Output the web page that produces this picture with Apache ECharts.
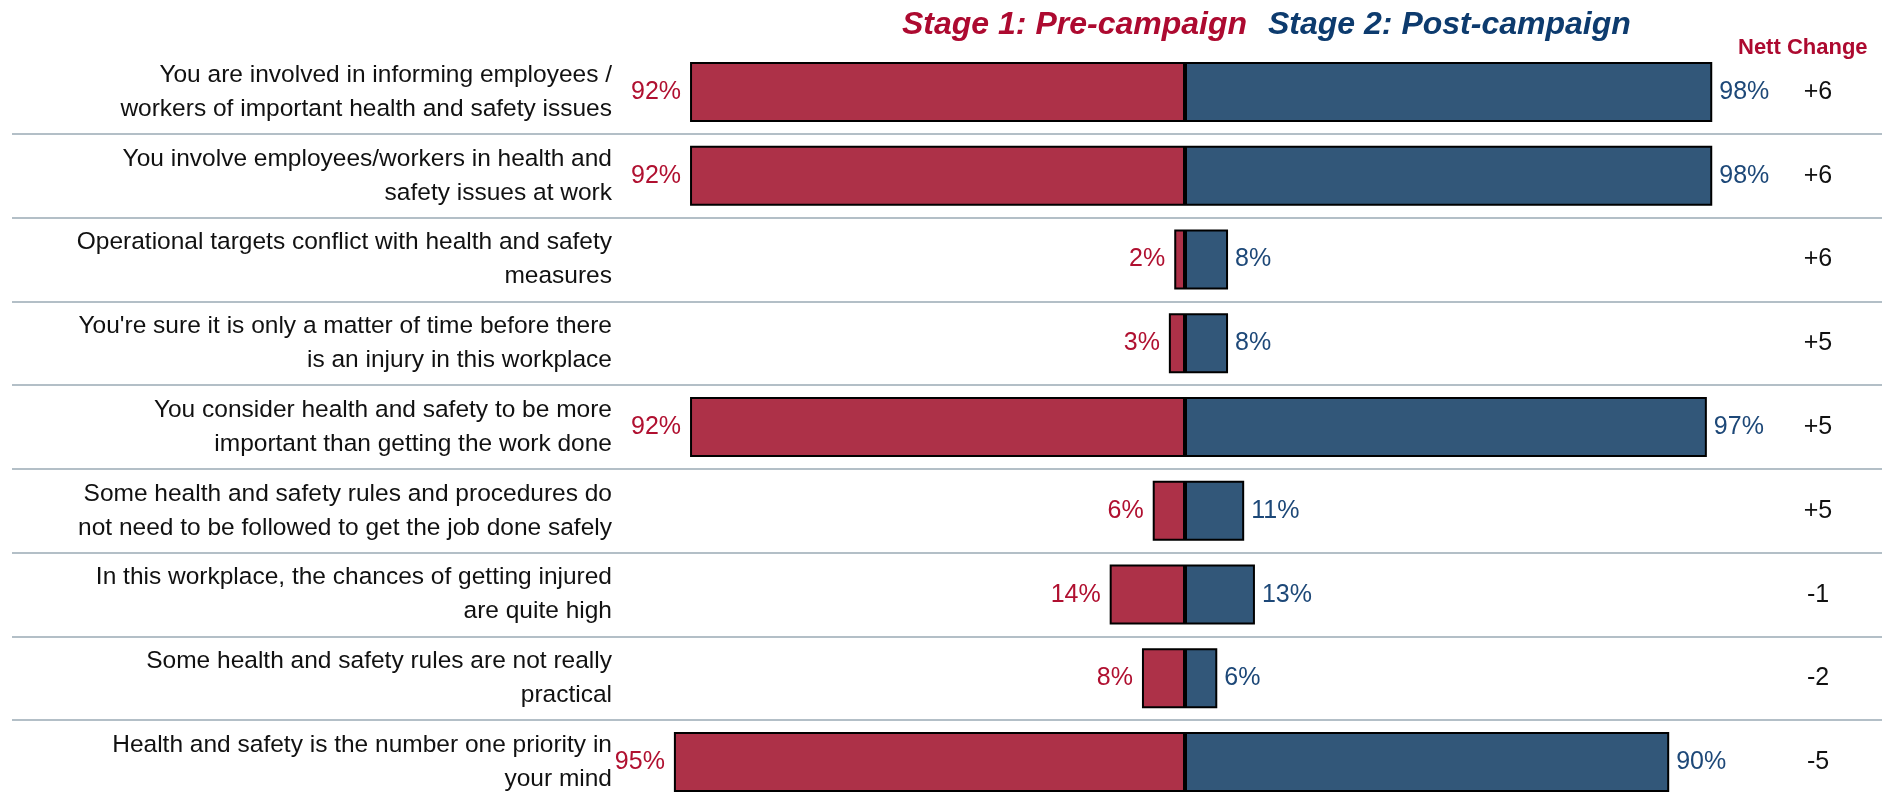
<!DOCTYPE html>
<html>
<head>
<meta charset="utf-8">
<title>Health and safety survey: pre vs post campaign</title>
<script src="https://cdn.jsdelivr.net/npm/echarts@6/dist/echarts.min.js"></script>
<style>
  html, body { margin: 0; padding: 0; background: #ffffff; }
  #chart { width: 1891px; height: 793px; }
</style>
</head>
<body>
<div id="chart"></div>
<script>
// Survey statements, top to bottom
const statements = [
  'You are involved in informing employees /\nworkers of important health and safety issues',
  'You involve employees/workers in health and\nsafety issues at work',
  'Operational targets conflict with health and safety\nmeasures',
  "You're sure it is only a matter of time before there\nis an injury in this workplace",
  'You consider health and safety to be more\nimportant than getting the work done',
  'Some health and safety rules and procedures do\nnot need to be followed to get the job done safely',
  'In this workplace, the chances of getting injured\nare quite high',
  'Some health and safety rules are not really\npractical',
  'Health and safety is the number one priority in\nyour mind'
];

// Percentage agreeing at each stage
const preCampaign = [92, 92, 2, 3, 92, 6, 14, 8, 95];
const postCampaign = [98, 98, 8, 8, 97, 11, 13, 6, 90];

// Nett change column (percentage points)
const nettChange = ['+6', '+6', '+6', '+5', '+5', '+5', '-1', '-2', '-5'];

const stageTitles = ['Stage 1: Pre-campaign', 'Stage 2: Post-campaign'];
const nettTitle = 'Nett Change';

const RED = '#ad3148';
const BLUE = '#325779';
const FONT = "'Liberation Sans', Arial, sans-serif";

const chart = echarts.init(document.getElementById('chart'), null, { renderer: 'canvas' });

// the last row runs past the bottom edge of the canvas
const rowTop = 50.2;
const rowsHeight = 753.8;

chart.setOption({
  animation: false,
  backgroundColor: '#ffffff',
  textStyle: { fontFamily: FONT },
  title: [
    {
      text: stageTitles[0], left: 902, top: 9, padding: 0,
      textStyle: { color: '#ad0a30', fontSize: 32, fontWeight: 'bold', fontStyle: 'italic', fontFamily: FONT }
    },
    {
      text: stageTitles[1], left: 1268, top: 9, padding: 0,
      textStyle: { color: '#0d3b6e', fontSize: 32, fontWeight: 'bold', fontStyle: 'italic', fontFamily: FONT }
    },
    {
      text: nettTitle, left: 1738, top: 36.5, padding: 0,
      textStyle: { color: '#ad0a30', fontSize: 22, fontWeight: 'bold', fontFamily: FONT }
    }
  ],
  grid: [
    // bars
    { left: 647, width: 1076, top: rowTop, height: rowsHeight, containLabel: false, outerBoundsMode: 'none' },
    // row separators spanning the full width
    { left: 12, right: 9, top: rowTop, height: rowsHeight, containLabel: false, outerBoundsMode: 'none' }
  ],
  xAxis: [
    { type: 'value', gridIndex: 0, min: -100, max: 100, show: false },
    { type: 'value', gridIndex: 1, min: 0, max: 1, show: false }
  ],
  yAxis: [
    {
      type: 'category', gridIndex: 0, data: statements, inverse: true,
      axisLine: { show: false }, axisTick: { show: false }, splitLine: { show: false },
      axisLabel: {
        color: '#111111', fontSize: 24.5, lineHeight: 34, align: 'right', margin: 35,
        fontFamily: FONT, interval: 0
      }
    },
    {
      type: 'category', gridIndex: 0, data: nettChange, inverse: true, position: 'right',
      axisLine: { show: false }, axisTick: { show: false }, splitLine: { show: false },
      axisLabel: {
        color: '#111111', fontSize: 25, align: 'center', margin: 95,
        fontFamily: FONT, interval: 0
      }
    },
    {
      type: 'category', gridIndex: 1, data: statements, inverse: true,
      axisLine: { show: false }, axisTick: { show: false }, axisLabel: { show: false },
      splitLine: {
        show: true, showMinLine: false, showMaxLine: false, interval: 0,
        lineStyle: { color: '#b3bfc7', width: 2 }
      }
    }
  ],
  series: [
    {
      name: stageTitles[0],
      type: 'bar',
      xAxisIndex: 0, yAxisIndex: 0,
      data: preCampaign.map(v => -v),
      barWidth: 60,
      barGap: '-100%',
      itemStyle: { color: RED, borderColor: '#000000', borderWidth: 2 },
      label: {
        show: true, position: 'left', distance: 9,
        color: '#b01030', fontSize: 25, fontFamily: FONT,
        formatter: p => Math.abs(p.value) + '%'
      }
    },
    {
      name: stageTitles[1],
      type: 'bar',
      xAxisIndex: 0, yAxisIndex: 0,
      data: postCampaign,
      barWidth: 60,
      barGap: '-100%',
      itemStyle: { color: BLUE, borderColor: '#000000', borderWidth: 2 },
      label: {
        show: true, position: 'right', distance: 7,
        color: '#1d4878', fontSize: 25, fontFamily: FONT,
        formatter: p => p.value + '%'
      }
    }
  ]
});
</script>
</body>
</html>
